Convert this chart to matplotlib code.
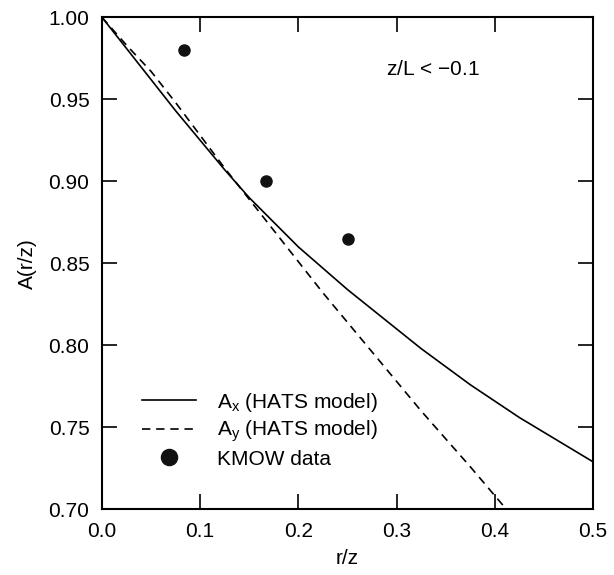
import matplotlib
matplotlib.use("Agg")
import matplotlib.pyplot as plt

plt.rcParams['font.family'] = ['Liberation Sans', 'DejaVu Sans']
plt.rcParams['mathtext.default'] = 'regular'

# A_x (HATS model), solid curve
ax_rz = [0.0, 0.025, 0.05, 0.075, 0.1, 0.125, 0.15, 0.175, 0.2, 0.225, 0.25,
         0.275, 0.3, 0.325, 0.35, 0.375, 0.4, 0.425, 0.45, 0.475, 0.5]
ax_vals = [1.0, 0.981, 0.962, 0.943, 0.925, 0.907, 0.890, 0.875, 0.860, 0.847, 0.834,
           0.822, 0.810, 0.798, 0.787, 0.776, 0.766, 0.756, 0.747, 0.738, 0.729]

# A_y (HATS model), dashed curve
ay_rz = [0.0, 0.025, 0.05, 0.075, 0.1, 0.125, 0.15, 0.175, 0.2, 0.225, 0.25,
         0.275, 0.3, 0.325, 0.35, 0.375, 0.409]
ay_vals = [1.0, 0.983, 0.967, 0.948, 0.928, 0.908, 0.889, 0.870, 0.851, 0.832, 0.814,
           0.796, 0.778, 0.760, 0.743, 0.726, 0.702]

# KMOW data
kmow_rz = [0.0833, 0.1667, 0.25]
kmow_vals = [0.980, 0.900, 0.865]

xticks = [0.0, 0.1, 0.2, 0.3, 0.4, 0.5]
yticks = [0.70, 0.75, 0.80, 0.85, 0.90, 0.95, 1.00]

fig = plt.figure(figsize=(6.14, 5.75), dpi=100)
ax = fig.add_axes([0.166, 0.114, 0.800, 0.856])

ax.plot(ax_rz, ax_vals, color='black', lw=1.2, label=r'A$_x$ (HATS model)')
ax.plot(ay_rz, ay_vals, color='black', lw=1.2, ls=(0, (5, 3.5)), label=r'A$_y$ (HATS model)')
ax.plot(kmow_rz, kmow_vals, 'o', color='#111111', ms=8, ls='none', label='KMOW data')

ax.set_xlim(0, 0.5)
ax.set_ylim(0.70, 1.00)
ax.set_xticks(xticks)
ax.set_xticklabels([f'{t:.1f}' for t in xticks])
ax.set_yticks(yticks)
ax.set_yticklabels([f'{t:.2f}' for t in yticks])

ax.tick_params(direction='in', length=11, width=1.2, top=True, right=True,
               labelsize=15, pad=9)
for s in ax.spines.values():
    s.set_linewidth(1.5)

ax.set_xlabel('r/z', fontsize=15, labelpad=6)
ax.set_ylabel('A(r/z)', fontsize=15, labelpad=10)
ax.yaxis.set_label_coords(-0.133, 0.5)

ax.text(0.289, 0.968, r'z/L < $-$0.1', ha='left', va='center', fontsize=15)

ax.legend(loc='lower left', bbox_to_anchor=(0.06, 0.062), frameon=False, fontsize=15,
          handlelength=2.6, handletextpad=1.0, labelspacing=0.25, borderpad=0,
          markerscale=1.45)

fig.savefig('out.png', dpi=100)
